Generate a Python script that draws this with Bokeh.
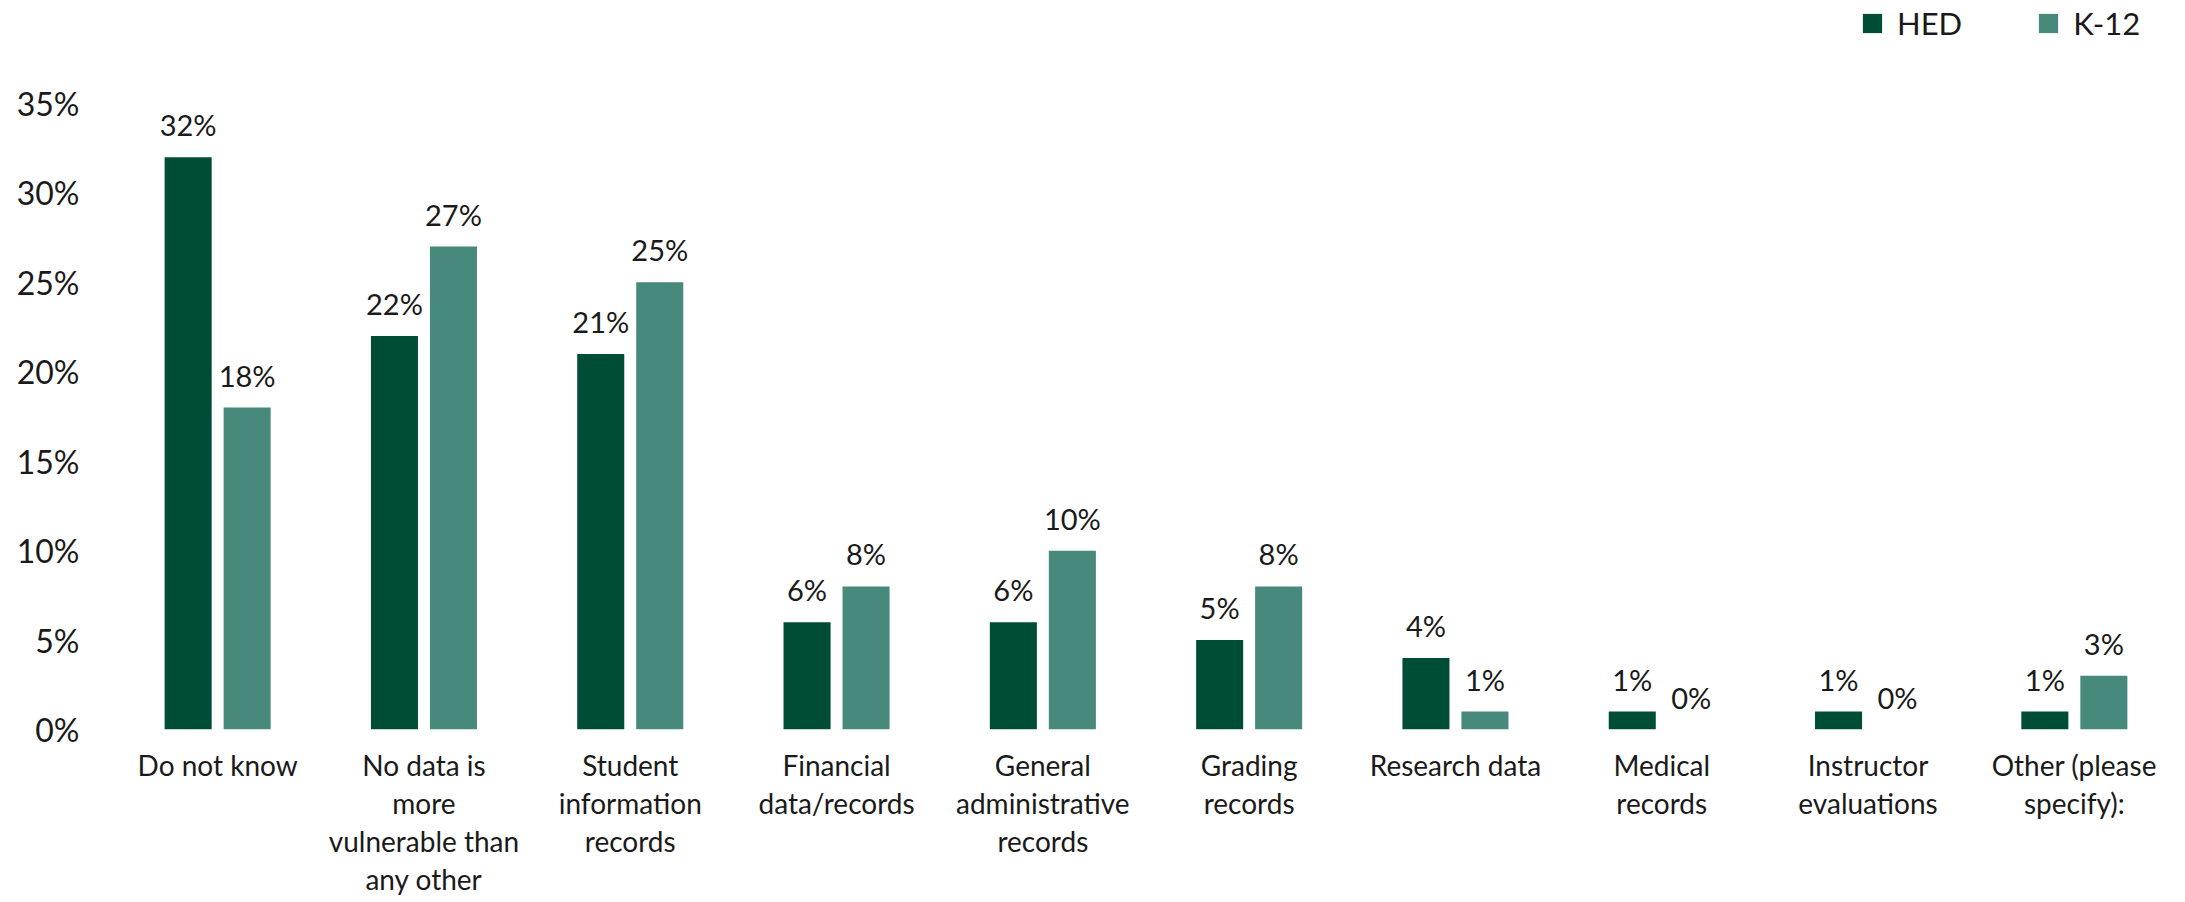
from bokeh.plotting import figure
from bokeh.models import ColumnDataSource, NumeralTickFormatter, Legend, LegendItem, Range1d, FactorRange
from bokeh.transform import dodge
from bokeh.core.properties import value
from bokeh.embed import file_html
from bokeh.resources import INLINE

categories = ["Do not know", "No data is\nmore\nvulnerable than\nany other", "Student\ninformation\nrecords",
              "Financial\ndata/records", "General\nadministrative\nrecords", "Grading\nrecords",
              "Research data", "Medical\nrecords", "Instructor\nevaluations", "Other (please\nspecify):"]
hed = [0.32, 0.22, 0.21, 0.06, 0.06, 0.05, 0.04, 0.01, 0.01, 0.01]
k12 = [0.18, 0.27, 0.25, 0.08, 0.10, 0.08, 0.01, 0.00, 0.00, 0.03]
series = ["HED", "K-12"]
colors = ["#004d37", "#47897a"]
y_ticks = [0, 0.05, 0.10, 0.15, 0.20, 0.25, 0.30, 0.35]

FONT = "Lato"

src = ColumnDataSource(dict(
    cat=categories, hed=hed, k12=k12,
    hed_lbl=[f"{round(v*100)}%" for v in hed],
    k12_lbl=[f"{round(v*100)}%" for v in k12],
))

# frame spans the full height above the axis; 35% tick sits ~103px below the top
p = figure(width=2185, height=902, x_range=FactorRange(*categories, range_padding=0),
           y_range=Range1d(0, 0.4076), output_backend="svg", toolbar_location=None,
           min_border_left=114, min_border_right=8, min_border_top=0, min_border_bottom=173)
p.outline_line_color = None
p.grid.visible = False

off = 0.143
bw = 0.228
r1 = p.vbar(x=dodge("cat", -off, range=p.x_range), top="hed", width=bw, source=src,
            fill_color=colors[0], line_color=None)
r2 = p.vbar(x=dodge("cat", off, range=p.x_range), top="k12", width=bw, source=src,
            fill_color=colors[1], line_color=None)

for x_off, col, lbl in [(-off, "hed", "hed_lbl"), (off, "k12", "k12_lbl")]:
    p.text(x=dodge("cat", x_off, range=p.x_range), y=col, text=lbl, source=src,
           text_align="center", text_baseline="bottom", y_offset=-15,
           text_font=value(FONT), text_font_size="29px", text_color="#1a1a1a")

p.yaxis.formatter = NumeralTickFormatter(format="0%")
p.yaxis.ticker = y_ticks
p.yaxis.axis_line_color = None
p.yaxis.major_tick_line_color = None
p.yaxis.minor_tick_line_color = None
p.yaxis.major_tick_out = 0
p.yaxis.major_label_text_font = FONT
p.yaxis.major_label_text_font_size = "32px"
p.yaxis.major_label_text_color = "#1a1a1a"
p.yaxis.major_label_standoff = 35

p.xaxis.axis_line_color = None
p.xaxis.major_tick_line_color = None
p.xaxis.major_tick_out = 0
p.xaxis.major_tick_in = 0
p.xaxis.major_label_text_font = FONT
p.xaxis.major_label_text_font_size = "28px"
p.xaxis.major_label_text_color = "#1a1a1a"
p.xaxis.major_label_standoff = 18
p.xaxis.major_label_text_line_height = 1.12

legend = Legend(items=[LegendItem(label=series[0], renderers=[r1]),
                       LegendItem(label=series[1], renderers=[r2])],
                orientation="horizontal", location=(1746, 687),
                label_text_font=FONT, label_text_font_size="31px", label_text_color="#1a1a1a",
                glyph_width=24, glyph_height=24, label_standoff=13, spacing=74,
                border_line_color=None, background_fill_alpha=0, padding=0, margin=0)
p.add_layout(legend, "center")

open("out.html", "w").write(file_html(p, INLINE))
